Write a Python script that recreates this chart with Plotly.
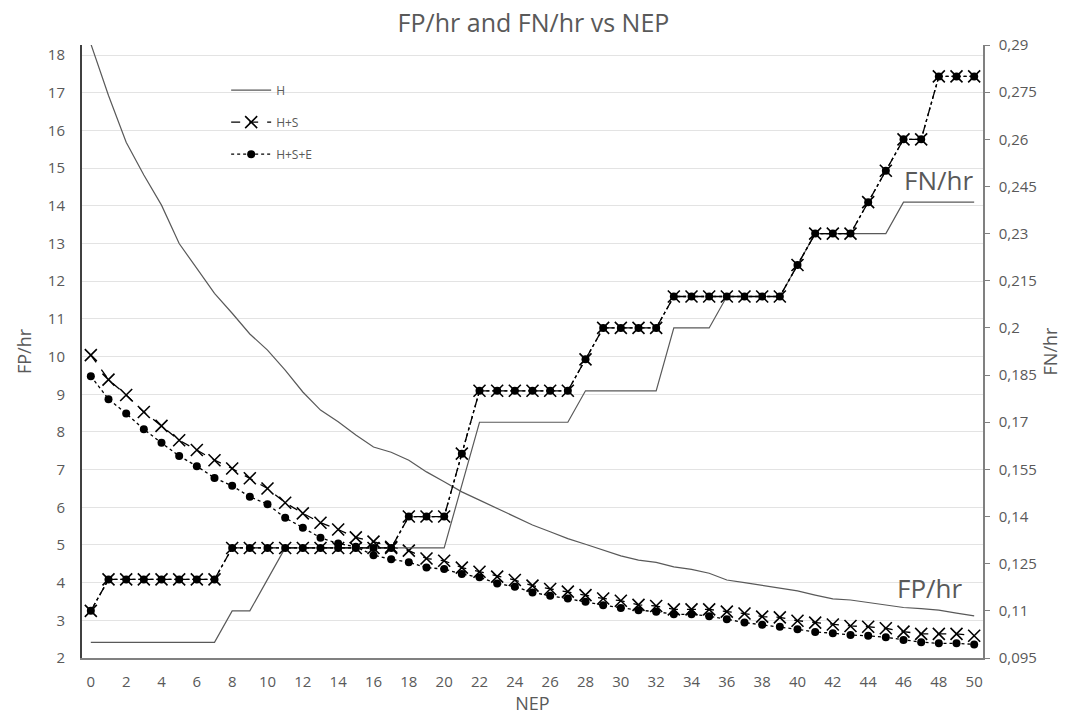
import plotly.graph_objects as go

NEP = list(range(0, 51))

FP_H = [18.3, 16.93, 15.69, 14.82, 14.02, 13.0, 12.34, 11.68, 11.15, 10.6,
        10.17, 9.64, 9.06, 8.58, 8.27, 7.92, 7.6, 7.46, 7.25, 6.94,
        6.68, 6.41, 6.19, 5.97, 5.75, 5.53, 5.35, 5.17, 5.02, 4.86,
        4.71, 4.6, 4.54, 4.42, 4.35, 4.25, 4.07, 4.0, 3.92, 3.85,
        3.78, 3.67, 3.57, 3.54, 3.47, 3.41, 3.34, 3.31, 3.27, 3.19, 3.12]

FP_HS = [10.04, 9.39, 8.98, 8.53, 8.16, 7.78, 7.52, 7.25, 7.03, 6.77,
         6.5, 6.12, 5.84, 5.59, 5.41, 5.2, 5.09, 4.95, 4.85, 4.64,
         4.58, 4.4, 4.29, 4.16, 4.07, 3.92, 3.83, 3.76, 3.67, 3.58,
         3.52, 3.41, 3.38, 3.29, 3.29, 3.29, 3.23, 3.18, 3.1, 3.08,
         2.99, 2.94, 2.89, 2.85, 2.83, 2.79, 2.7, 2.64, 2.64, 2.64, 2.59]

FP_HSE = [9.48, 8.87, 8.49, 8.07, 7.71, 7.36, 7.09, 6.78, 6.57, 6.28,
          6.08, 5.72, 5.46, 5.19, 5.04, 4.95, 4.73, 4.62, 4.54, 4.4,
          4.36, 4.23, 4.14, 3.98, 3.89, 3.74, 3.65, 3.58, 3.49, 3.4,
          3.33, 3.27, 3.23, 3.16, 3.16, 3.11, 3.03, 2.94, 2.88, 2.83,
          2.76, 2.69, 2.66, 2.61, 2.59, 2.55, 2.48, 2.42, 2.39, 2.39, 2.36]

FN_H = [0.10, 0.10, 0.10, 0.10, 0.10, 0.10, 0.10, 0.10, 0.11, 0.11,
        0.12, 0.13, 0.13, 0.13, 0.13, 0.13, 0.13, 0.13, 0.13, 0.13,
        0.13, 0.15, 0.17, 0.17, 0.17, 0.17, 0.17, 0.17, 0.18, 0.18,
        0.18, 0.18, 0.18, 0.20, 0.20, 0.20, 0.21, 0.21, 0.21, 0.21,
        0.22, 0.23, 0.23, 0.23, 0.23, 0.23, 0.24, 0.24, 0.24, 0.24, 0.24]

FN_HS = [0.11, 0.12, 0.12, 0.12, 0.12, 0.12, 0.12, 0.12, 0.13, 0.13,
         0.13, 0.13, 0.13, 0.13, 0.13, 0.13, 0.13, 0.13, 0.14, 0.14,
         0.14, 0.16, 0.18, 0.18, 0.18, 0.18, 0.18, 0.18, 0.19, 0.20,
         0.20, 0.20, 0.20, 0.21, 0.21, 0.21, 0.21, 0.21, 0.21, 0.21,
         0.22, 0.23, 0.23, 0.23, 0.24, 0.25, 0.26, 0.26, 0.28, 0.28, 0.28]

FN_HSE = list(FN_HS)

X_TICKS = [0, 2, 4, 6, 8, 10, 12, 14, 16, 18, 20, 22, 24, 26, 28, 30,
           32, 34, 36, 38, 40, 42, 44, 46, 48, 50]
LEFT_TICKS = [2, 3, 4, 5, 6, 7, 8, 9, 10, 11, 12, 13, 14, 15, 16, 17, 18]
RIGHT_TICKS = [0.095, 0.11, 0.125, 0.14, 0.155, 0.17, 0.185, 0.2, 0.215,
               0.23, 0.245, 0.26, 0.275, 0.29]
RIGHT_LABELS = ["0,095", "0,11", "0,125", "0,14", "0,155", "0,17", "0,185",
                "0,2", "0,215", "0,23", "0,245", "0,26", "0,275", "0,29"]

GRAY = "#595959"
FONT = "Open Sans"

fig = go.Figure()

# FP/hr series (left axis)
fig.add_trace(go.Scatter(
    x=NEP, y=FP_H, name="H", mode="lines",
    line=dict(color=GRAY, width=1.2), legendgroup="a"))
fig.add_trace(go.Scatter(
    x=NEP, y=FP_HS, name="H+S", mode="lines+markers",
    line=dict(color="black", width=1.3, dash="dash"),
    marker=dict(symbol="x-thin", size=12, line=dict(color="black", width=1.6)),
    legendgroup="b"))
fig.add_trace(go.Scatter(
    x=NEP, y=FP_HSE, name="H+S+E", mode="lines+markers",
    line=dict(color="black", width=1.3, dash="dot"),
    marker=dict(symbol="circle", size=8, color="black"),
    legendgroup="c"))

# FN/hr series (right axis)
fig.add_trace(go.Scatter(
    x=NEP, y=FN_H, name="H", mode="lines", yaxis="y2",
    line=dict(color=GRAY, width=1.2), showlegend=False))
fig.add_trace(go.Scatter(
    x=NEP, y=FN_HS, name="H+S", mode="lines+markers", yaxis="y2",
    line=dict(color="black", width=1.3, dash="dashdot"),
    marker=dict(symbol="x-thin", size=12, line=dict(color="black", width=1.6)),
    showlegend=False))
fig.add_trace(go.Scatter(
    x=NEP, y=FN_HSE, name="H+S+E", mode="lines+markers", yaxis="y2",
    line=dict(color="black", width=1.3, dash="dot"),
    marker=dict(symbol="circle", size=8, color="black"),
    showlegend=False))

fig.update_layout(
    width=1067, height=723,
    margin=dict(l=82, r=84, t=45, b=65, autoexpand=False),
    paper_bgcolor="white", plot_bgcolor="white",
    font=dict(family=FONT, color=GRAY, size=15),
    title=dict(text="FP/hr and FN/hr vs NEP", x=0.5, xanchor="center",
               y=0.968, yanchor="middle",
               font=dict(family=FONT, size=25, color=GRAY)),
    xaxis=dict(range=[-0.5, 50.5], tickvals=X_TICKS, showgrid=False,
               zeroline=False, showline=True, linecolor="#808080", linewidth=2,
               ticks="", ticklabelstandoff=9, tickfont=dict(size=15),
               automargin=False,
               title=dict(text="NEP", font=dict(size=18, color=GRAY), standoff=6)),
    yaxis=dict(range=[2, 18.27], tickvals=LEFT_TICKS, showgrid=True,
               gridcolor="#e3e3e3", gridwidth=1, zeroline=False,
               showline=True, linecolor="#404040", linewidth=2, ticks="",
               ticklabelstandoff=12, tickfont=dict(size=15), automargin=False,
               title=dict(text="FP/hr", font=dict(size=18, color=GRAY), standoff=12)),
    yaxis2=dict(range=[0.095, 0.29], tickvals=RIGHT_TICKS, ticktext=RIGHT_LABELS,
                overlaying="y", side="right", showgrid=False, zeroline=False,
                showline=True, linecolor="#808080", linewidth=1.5,
                ticks="outside", ticklen=5, tickcolor="#808080",
                ticklabelstandoff=6, tickfont=dict(size=15), automargin=False,
                title=dict(text="FN/hr", font=dict(size=18, color=GRAY), standoff=8)),
    legend=dict(x=0.16, y=0.95, xanchor="left", yanchor="top",
                bgcolor="rgba(0,0,0,0)", font=dict(size=12, color=GRAY),
                tracegroupgap=13, itemwidth=40),
    showlegend=True,
)

fig.add_annotation(x=48.0, y=14.7, xref="x", yref="y", text="FN/hr",
                   showarrow=False, font=dict(size=26, color=GRAY, family=FONT))
fig.add_annotation(x=47.5, y=3.86, xref="x", yref="y", text="FP/hr",
                   showarrow=False, font=dict(size=26, color=GRAY, family=FONT))

fig.write_html("out.html")
